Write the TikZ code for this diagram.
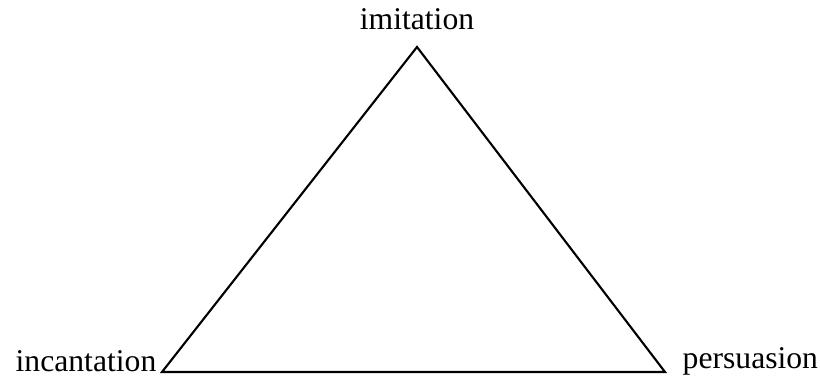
\documentclass[tikz,border=0pt]{standalone}
\usepackage{fontspec}
\setmainfont{Liberation Serif}
\usetikzlibrary{positioning}
\begin{document}
\begin{tikzpicture}[
    x=0.01cm, y=-0.01cm,
    side/.style={line width=0.6pt, line join=miter},
    corner/.style={font=\fontsize{9}{11}\selectfont, inner sep=0pt}
]
    \useasboundingbox (0,0) rectangle (820,382);

    % Triangle corners
    \coordinate (top) at (417,47);
    \coordinate (left) at (162,372);
    \coordinate (right) at (665,372);
    \draw[side] (top) -- (left) -- (right) -- cycle;

    % Corner labels
    \node[corner, anchor=base] (imitation) at (417,30) {imitation};
    \node[corner, anchor=base east] (incantation) at (157,372) {incantation};
    \node[corner, anchor=base west] (persuasion) at (682,369) {persuasion};
\end{tikzpicture}
\end{document}
